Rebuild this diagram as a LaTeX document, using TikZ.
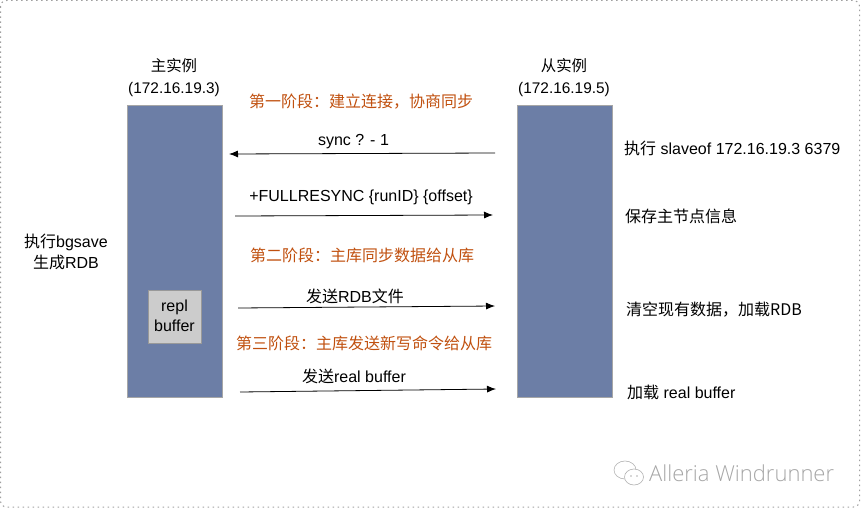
\documentclass[tikz,border=0pt]{standalone}
\usepackage{fontspec}
\setmainfont{Liberation Sans}
\newfontfamily\cjk{Noto Sans CJK SC}
\newfontfamily\markfont{Open Sans Light}
\usepackage{tikz}
\usetikzlibrary{arrows.meta}
\definecolor{instanceblue}{HTML}{6C7EA6}
\definecolor{phaseorange}{HTML}{C0500F}
\tikzset{
	% ---- default
	every node/.style={font=\fontsize{16}{19}\selectfont, inner sep=0pt, align=center},
	% ---- custom
	frame/.style={line width=1pt, dash pattern=on 1.5pt off 3.5pt, gray!75, rounded corners=6pt},
	instance/.style={draw=gray!70, line width=0.4pt, fill=instanceblue},
	instance label/.style={font=\fontsize{15.4}{19}\selectfont},
	buffer/.style={draw=gray!80, line width=0.4pt, fill=gray!40},
	message/.style={-{Latex[length=9pt,width=7pt]}, line width=0.8pt},
	phase/.style={text=phaseorange},
	watermark/.style={gray!60, line width=0.6pt},
}

\begin{document}
\begin{tikzpicture}[x=1pt, y=-1pt]

	\useasboundingbox (0,0) rectangle (861,508);

% frame %{{{2

	\draw[frame] (0.5,0.5) rectangle (859.5,507);

% instances %{{{2

	\path[instance] (127,105) rectangle (222,397);
	\path[instance] (517,105) rectangle (612,397);
	\path[buffer] (148,290) rectangle (201,343);
	\node (repl) at (174.5,315.5) {repl\\[1pt]buffer};

	\node[instance label] (master) at (174,78) {{\cjk 主实例}\\[3pt](172.16.19.3)};
	\node[instance label] (slave) at (564,78) {{\cjk 从实例}\\[3pt](172.16.19.5)};

% coordinates %{{{2

	\coordinate (S1) at (495,153);
	\coordinate (M1) at (229,154);
	\coordinate (M2) at (235,216);
	\coordinate (S2) at (493,215);
	\coordinate (M3) at (238,308);
	\coordinate (S3) at (495,306);
	\coordinate (M4) at (240,392);
	\coordinate (S4) at (496,389);

% messages %{{{2

	\draw[message] (S1) -- (M1);
	\draw[message] (M2) -- (S2);
	\draw[message] (M3) -- (S3);
	\draw[message] (M4) -- (S4);

	\node (sync) at (353.5,142) {sync ? - 1};
	\node (fullresync) at (361,197) {+FULLRESYNC \{runID\} \{offset\}};
	\node (rdbfile) at (355,296) {{\cjk 发送}RDB{\cjk 文件}};
	\node (realbuffer) at (354,376) {{\cjk 发送}real buffer};

% phases %{{{2

	\node[phase] (phase1) at (361,102) {\cjk 第一阶段：建立连接，协商同步};
	\node[phase] (phase2) at (362,255) {\cjk 第二阶段：主库同步数据给从库};
	\node[phase] (phase3) at (364,343) {\cjk 第三阶段：主库发送新写命令给从库};

% left and right notes %{{{2

	\node (bgsave) at (66,252) {{\cjk 执行}bgsave\\[2pt]{\cjk 生成}RDB};

	\node[anchor=west] (slaveof) at (624,148) {{\cjk 执行} slaveof 172.16.19.3 6379};
	\node[anchor=west] (saveinfo) at (625,216) {\cjk 保存主节点信息};
	\node[anchor=west] (flush) at (626,310) {\cjk 清空现有数据，加载RDB};
	\node[anchor=west] (loadbuf) at (627,392) {{\cjk 加载} real buffer};

% watermark %{{{2

	\draw[watermark] (625,470) ellipse (11 and 9);
	\draw[watermark, fill=white] (634,477) ellipse (9.5 and 8);
	\fill[gray!60] (631,476) circle (0.9);
	\fill[gray!60] (637,476) circle (0.9);
	\node[anchor=west, text=gray!70, font=\fontsize{22}{24}\markfont] (author) at (649,473) {Alleria Windrunner};

% closing %{{{2

\end{tikzpicture}
\end{document}
